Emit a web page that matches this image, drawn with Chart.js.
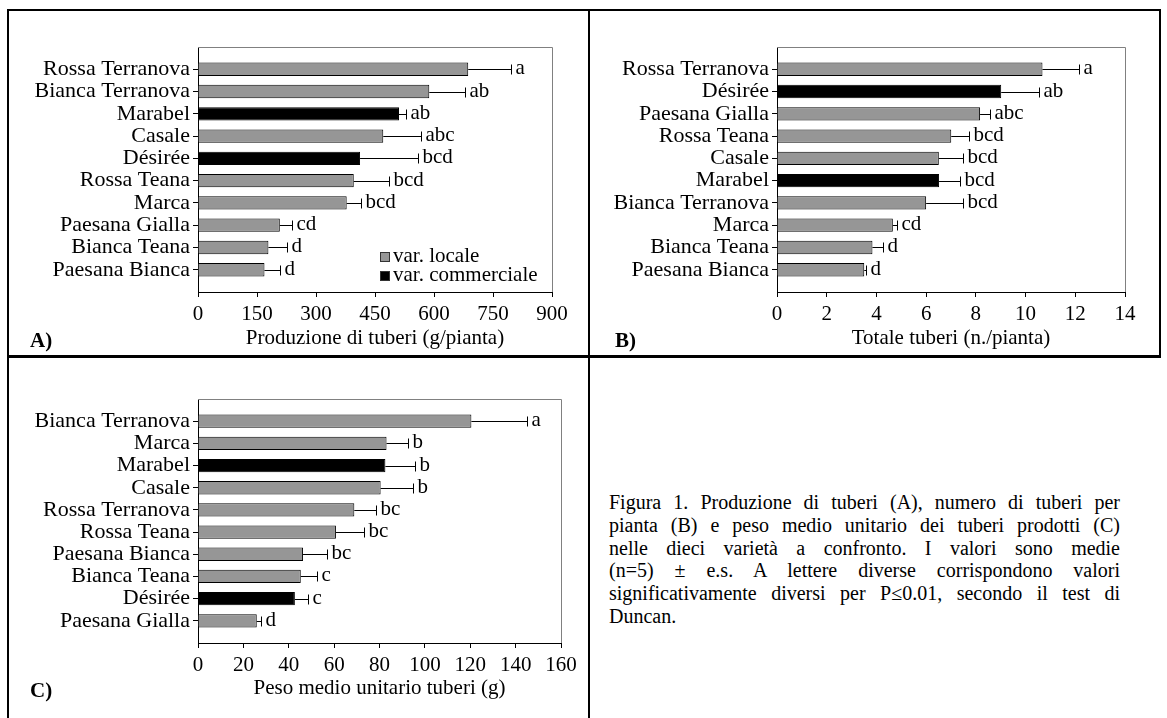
<!DOCTYPE html>
<html><head><meta charset="utf-8">
<script src="https://cdn.jsdelivr.net/npm/chart.js@4.4.0/dist/chart.umd.min.js"></script>
<style>
html,body{margin:0;padding:0;background:#fff;}
#fig{position:relative;width:1167px;height:718px;overflow:hidden;font-family:'Liberation Serif','Times New Roman',serif;color:#000;background:#fff;}
.ln{position:absolute;background:#000;}
canvas{position:absolute;}
.pl{position:absolute;font-weight:bold;font-size:21px;line-height:21px;}
#cap{position:absolute;left:609px;top:491px;width:511px;font-size:20px;line-height:22.8px;}
#cap span{display:block;text-align:justify;text-align-last:justify;white-space:nowrap;}
#cap span.last{text-align-last:left;}
</style></head>
<body><div id="fig">
<div class="ln" style="left:7px;top:9px;width:1154px;height:2px"></div>
<div class="ln" style="left:7px;top:9px;width:2px;height:709px"></div>
<div class="ln" style="left:588px;top:9px;width:2px;height:709px"></div>
<div class="ln" style="left:1159px;top:9px;width:2px;height:348px"></div>
<div class="ln" style="left:7px;top:355px;width:1154px;height:3px"></div>
<canvas id="cA" width="575" height="343" style="left:10px;top:12px"></canvas>
<canvas id="cB" width="566" height="343" style="left:592px;top:12px"></canvas>
<canvas id="cC" width="575" height="346" style="left:10px;top:359px"></canvas>
<div class="pl" style="left:30px;top:330px">A)</div>
<div class="pl" style="left:615px;top:330px">B)</div>
<div class="pl" style="left:30px;top:680px">C)</div>
<div id="cap">
<span>Figura 1. Produzione di tuberi (A), numero di tuberi per</span>
<span>pianta (B) e peso medio unitario dei tuberi prodotti (C)</span>
<span>nelle dieci varietà a confronto. I valori sono medie</span>
<span>(n=5) ± e.s. A lettere diverse corrispondono valori</span>
<span>significativamente diversi per P≤0.01, secondo il test di</span>
<span class="last">Duncan.</span>
</div>
</div>
<script>
// ---- data ----
const catsA = ['Rossa Terranova','Bianca Terranova','Marabel','Casale','Désirée','Rossa Teana','Marca','Paesana Gialla','Bianca Teana','Paesana Bianca'];
const valsA = [687,588,511,471,412,396,378,208,179,169];
const errA  = [110,91,17,96,148,90,37,30,48,39];
const letA  = ['a','ab','ab','abc','bcd','bcd','bcd','cd','d','d'];
const ticksA = [0,150,300,450,600,750,900];
const titleA = 'Produzione di tuberi (g/pianta)';

const catsB = ['Rossa Terranova','Désirée','Paesana Gialla','Rossa Teana','Casale','Marabel','Bianca Terranova','Marca','Bianca Teana','Paesana Bianca'];
const valsB = [10.68,9.02,8.17,7.01,6.51,6.52,6.0,4.66,3.84,3.51];
const errB  = [1.48,1.54,0.40,0.73,0.97,0.85,1.48,0.16,0.44,0.08];
const letB  = ['a','ab','abc','bcd','bcd','bcd','bcd','cd','d','d'];
const ticksB = [0,2,4,6,8,10,12,14];
const titleB = 'Totale tuberi (n./pianta)';

const catsC = ['Bianca Terranova','Marca','Marabel','Casale','Rossa Terranova','Rossa Teana','Paesana Bianca','Bianca Teana','Désirée','Paesana Gialla'];
const valsC = [120.5,83.1,82.6,80.5,68.9,60.8,46.3,45.3,42.7,25.9];
const errC  = [24.4,9.4,12.9,14.1,9.5,12.4,10.7,7.0,5.6,1.7];
const letC  = ['a','b','b','b','bc','bc','bc','c','c','d'];
const ticksC = [0,20,40,60,80,100,120,140,160];
const titleC = 'Peso medio unitario tuberi (g)';

const commercial = ['Marabel','Désirée'];
const legendLabels = ['var. locale','var. commerciale'];

// ---- styling ----
const FONT = "'Liberation Serif', 'Times New Roman', serif";
const GRAY = '#969696';
const BLACK = '#000000';

function makeChart(id, cats, vals, errs, lets, ticks, title, geo, withLegend) {
  const colors = cats.map(c => commercial.includes(c) ? BLACK : GRAY);
  const plugin = {
    id: 'decor_' + id,
    beforeDatasetsDraw(chart) {
      const {ctx, chartArea: a} = chart;
      ctx.save();
      ctx.strokeStyle = '#808080';
      ctx.lineWidth = 1;
      ctx.beginPath();
      ctx.moveTo(a.left, Math.round(a.top) + 0.5);
      ctx.lineTo(Math.round(a.right) + 0.5, Math.round(a.top) + 0.5);
      ctx.lineTo(Math.round(a.right) + 0.5, a.bottom);
      ctx.stroke();
      ctx.restore();
    },
    afterDatasetsDraw(chart) {
      const {ctx, chartArea: a} = chart;
      const xs = chart.scales.x, ys = chart.scales.y;
      ctx.save();
      ctx.strokeStyle = BLACK;
      ctx.lineWidth = 1;
      ctx.fillStyle = BLACK;
      ctx.font = '21px ' + FONT;
      ctx.textBaseline = 'middle';
      ctx.textAlign = 'left';
      vals.forEach((v, i) => {
        const x1 = xs.getPixelForValue(v);
        const x2 = Math.round(xs.getPixelForValue(v + errs[i])) + 0.5;
        const y = Math.round(ys.getPixelForValue(i)) + 0.5;
        ctx.beginPath();
        ctx.moveTo(x1, y); ctx.lineTo(x2, y);
        ctx.moveTo(x2, y - 5); ctx.lineTo(x2, y + 5);
        ctx.stroke();
        ctx.fillText(lets[i], x2 + 4, y - 1);
      });
      if (withLegend) {
        const sx = a.left + 182;
        const ys1 = a.bottom - 35, ys2 = a.bottom - 16;
        [[ys1, GRAY], [ys2, BLACK]].forEach(([yy, col], k) => {
          ctx.fillStyle = col;
          ctx.fillRect(sx, yy - 5, 10, 10);
          ctx.strokeStyle = '#333';
          ctx.strokeRect(sx + 0.5, yy - 4.5, 9, 9);
          ctx.fillStyle = BLACK;
          ctx.fillText(legendLabels[k], sx + 13, yy - 1);
        });
      }
      ctx.restore();
    }
  };
  return new Chart(document.getElementById(id), {
    type: 'bar',
    data: {
      datasets: [{
        data: vals.map((v, i) => ({x: v, y: i})),
        backgroundColor: colors,
        borderColor: BLACK,
        borderWidth: 1,
        categoryPercentage: 0.6,
        barPercentage: 1.0
      }]
    },
    options: {
      indexAxis: 'y',
      responsive: false,
      animation: false,
      events: [],
      layout: {padding: geo.pad},
      plugins: {legend: {display: false}, tooltip: {enabled: false}},
      scales: {
        y: {
          type: 'linear', min: -1, max: 10, reverse: true, offset: false,
          afterBuildTicks: s => { s.ticks = cats.map((_, i) => ({value: i})); },
          afterFit: s => { s.width = geo.yw; },
          ticks: {autoSkip: false, padding: 3, color: BLACK,
            font: {family: FONT, size: 22, lineHeight: 1.0},
            callback: v => cats[v]},
          grid: {drawOnChartArea: false, drawTicks: true, tickLength: 5, color: BLACK, offset: false},
          border: {display: true, color: BLACK, width: 1}
        },
        x: {
          type: 'linear', min: ticks[0], max: ticks[ticks.length - 1], offset: false,
          afterBuildTicks: s => { s.ticks = ticks.map(v => ({value: v})); },
          afterFit: s => { s.height = geo.xh; },
          ticks: {autoSkip: false, maxRotation: 0, padding: 5, color: BLACK,
            font: {family: FONT, size: 21, lineHeight: 1.2}},
          grid: {drawOnChartArea: false, drawTicks: true, tickLength: 5, color: BLACK},
          border: {display: true, color: BLACK, width: 1},
          title: {display: true, text: title, color: BLACK,
            font: {family: FONT, size: 21, lineHeight: 1.2}, padding: {top: 0, bottom: 4}}
        }
      }
    },
    plugins: [plugin]
  });
}

makeChart('cA', catsA, valsA, errA, letA, ticksA, titleA,
  {pad: {left: 0, right: 33, top: 35, bottom: 0}, yw: 188, xh: 63}, true);
makeChart('cB', catsB, valsB, errB, letB, ticksB, titleB,
  {pad: {left: 0, right: 33, top: 35, bottom: 0}, yw: 185, xh: 63}, false);
makeChart('cC', catsC, valsC, errC, letC, ticksC, titleC,
  {pad: {left: 0, right: 24, top: 40, bottom: 0}, yw: 188, xh: 62}, false);
</script>
</body></html>
